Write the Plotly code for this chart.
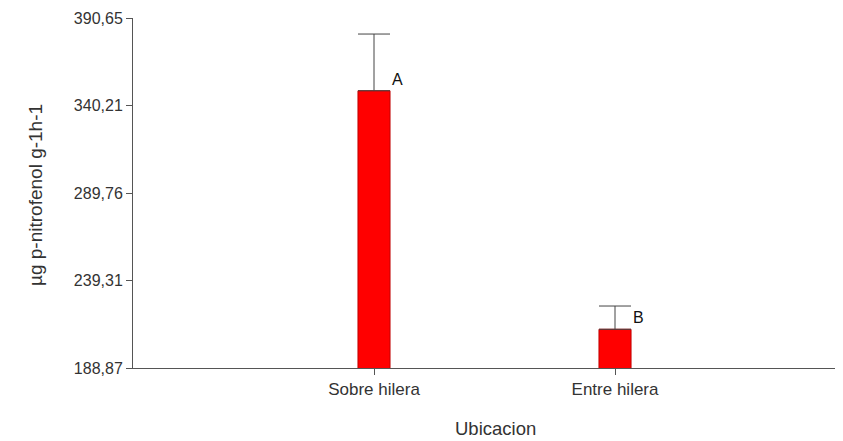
import plotly.graph_objects as go

categories = ["Sobre hilera", "Entre hilera"]
means = [348.7, 211.2]
err_up = [32.7, 13.4]
letters = ["A", "B"]
tick_vals = [188.87, 239.31, 289.76, 340.21, 390.65]
tick_text = ["188,87", "239,31", "289,76", "340,21", "390,65"]
x_title = "Ubicacion"
y_title = "µg p-nitrofenol g-1h-1"

FONT = "Liberation Sans, Arial"

fig = go.Figure()
fig.add_trace(go.Bar(
    x=categories, y=means, width=0.133,
    marker=dict(color="#ff0000", line=dict(color="#c00000", width=1)),
    error_y=dict(type="data", symmetric=False, array=err_up, arrayminus=[0, 0],
                 color="#444444", thickness=1, width=16),
))
for c, m, l in zip(categories, means, letters):
    fig.add_annotation(x=c, y=m, text=l, showarrow=False, xshift=23, yshift=1,
                       xanchor="center", yanchor="bottom",
                       font=dict(family=FONT, size=16, color="#111111"))

fig.add_annotation(text=x_title, xref="paper", yref="paper", x=0.5, y=0,
                   xshift=7, yshift=-60, xanchor="center", yanchor="middle",
                   showarrow=False, font=dict(family=FONT, size=18.5, color="#333333"))
fig.add_annotation(text=y_title, xref="paper", yref="paper", x=0, y=0.5,
                   xshift=-98, yshift=-2, xanchor="center", yanchor="middle",
                   textangle=-90, showarrow=False,
                   font=dict(family=FONT, size=19, color="#333333"))

fig.update_layout(
    width=835, height=433,
    margin=dict(l=125, r=0, t=10, b=73, autoexpand=False),
    plot_bgcolor="white", paper_bgcolor="white",
    showlegend=False,
    font=dict(family=FONT, size=16, color="#333333"),
    xaxis=dict(
        type="category", range=[-1.0, 1.946],
        showline=True, linecolor="#555555", linewidth=1,
        ticks="outside", ticklen=6, tickcolor="#555555",
        showgrid=False, zeroline=False,
        tickfont=dict(size=17),
    ),
    yaxis=dict(
        range=[188.87, 390.65], tickvals=tick_vals, ticktext=tick_text,
        showline=True, linecolor="#555555", linewidth=1,
        ticks="outside", ticklen=6, tickcolor="#555555",
        showgrid=False, zeroline=False,
        tickfont=dict(size=16),
    ),
)
fig.write_html("out.html")
